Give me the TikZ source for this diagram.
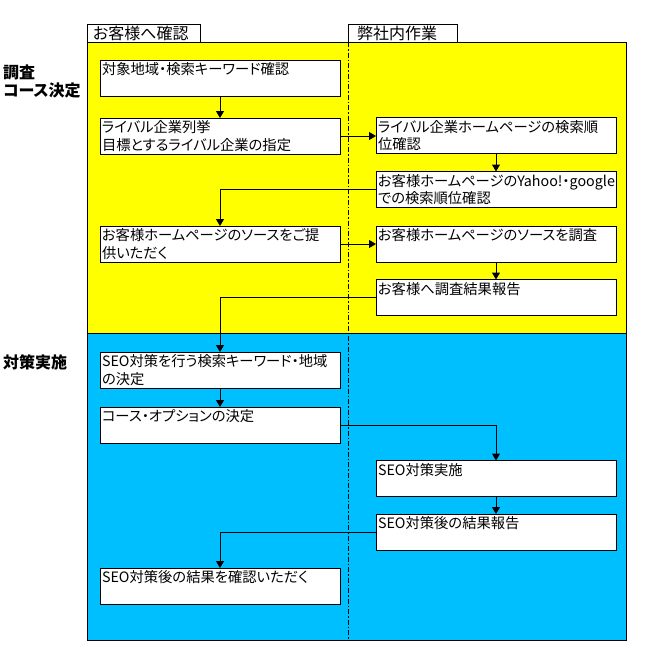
\documentclass[tikz,border=0pt]{standalone}
\usepackage{fontspec}
\setmainfont{Noto Sans CJK JP}[RawFeature=+palt]
\usetikzlibrary{arrows.meta}
\definecolor{ylw}{RGB}{255,255,0}
\definecolor{sky}{RGB}{0,191,255}
\newcommand\bxt[1]{\parbox[c][32pt][t]{236pt}{\raggedright\vspace*{0.5pt}#1}}
\begin{document}
\begin{tikzpicture}[x=1pt,y=-1pt,
  box/.style={draw=black,fill=white,line width=1pt,inner sep=2pt,outer sep=0pt,
    font=\fontsize{14.3}{17.5}\selectfont},
  conn/.style={line width=1pt,-{Triangle[length=7pt,width=8pt]}},
  tab/.style={draw=black,fill=white,line width=1pt,minimum height=18pt,inner sep=0pt,
    font=\fontsize{16}{17}\selectfont},
  sidelbl/.style={anchor=west,inner sep=0pt,font=\fontsize{16}{18}\selectfont\bfseries},
  lane/.style={draw=black,line width=1pt}]
\useasboundingbox (0,0) rectangle (649,664);
% regions
\path[lane,fill=ylw] (87,42) rectangle (626,333);
\path[lane,fill=sky] (87,333) rectangle (626,640);
% tabs
\node[tab,minimum width=113pt] (tabL) at (143.5,33) {\makebox[101pt][l]{お客様へ確認}};
\node[tab,minimum width=109pt] (tabR) at (402.5,33) {\makebox[91pt][l]{弊社内作業}};
% lane divider
\coordinate (dtop) at (348,42);
\coordinate (dbot) at (348,640);
\draw[line width=1pt,dash pattern=on 5pt off 2pt on 1.5pt off 2pt] (dtop) -- (dbot);
% side labels
\node[sidelbl] (s1) at (3,72) {調査};
\node[sidelbl] (s2) at (3,90) {コース決定};
\node[sidelbl] (s3) at (3,362) {対策実施};
% boxes
\node[box] (L1) at (220,78) {\bxt{対象地域・検索キーワード確認}};
\node[box] (L2) at (220,136) {\bxt{ライバル企業列挙\\目標とするライバル企業の指定}};
\node[box] (R1) at (496,135.5) {\bxt{ライバル企業ホームページの検索順\\位確認}};
\node[box] (R2) at (496,189.5) {\bxt{お客様ホームページのYahoo!・google\\での検索順位確認}};
\node[box] (L3) at (220,244) {\bxt{お客様ホームページのソースをご提\\供いただく}};
\node[box] (R3) at (496,244) {\bxt{お客様ホームページのソースを調査}};
\node[box] (R4) at (496,297.5) {\bxt{お客様へ調査結果報告}};
\node[box] (L4) at (220,370) {\bxt{SEO対策を行う検索キーワード・地域\\の決定}};
\node[box] (L5) at (220,425) {\bxt{コース・オプションの決定}};
\node[box] (R5) at (496,478.5) {\bxt{SEO対策実施}};
\node[box] (R6) at (496,532) {\bxt{SEO対策後の結果報告}};
\node[box] (L6) at (220,586) {\bxt{SEO対策後の結果を確認いただく}};
% connectors
\draw[conn] (L1.south) -- (L2.north);
\draw[conn] (L2.east) -- (R1.west |- L2.east);
\draw[conn] (R1.south) -- (R2.north);
\draw[conn] (R2.west) -| (L3.north);
\draw[conn] (L3.east) -- (R3.west);
\draw[conn] (R3.south) -- (R4.north);
\draw[conn] (R4.west) -| (L4.north);
\draw[conn] (L4.south) -- (L5.north);
\draw[conn] (L5.east) -| (R5.north);
\draw[conn] (R5.south) -- (R6.north);
\draw[conn] (R6.west) -| (L6.north);
\end{tikzpicture}
\end{document}
